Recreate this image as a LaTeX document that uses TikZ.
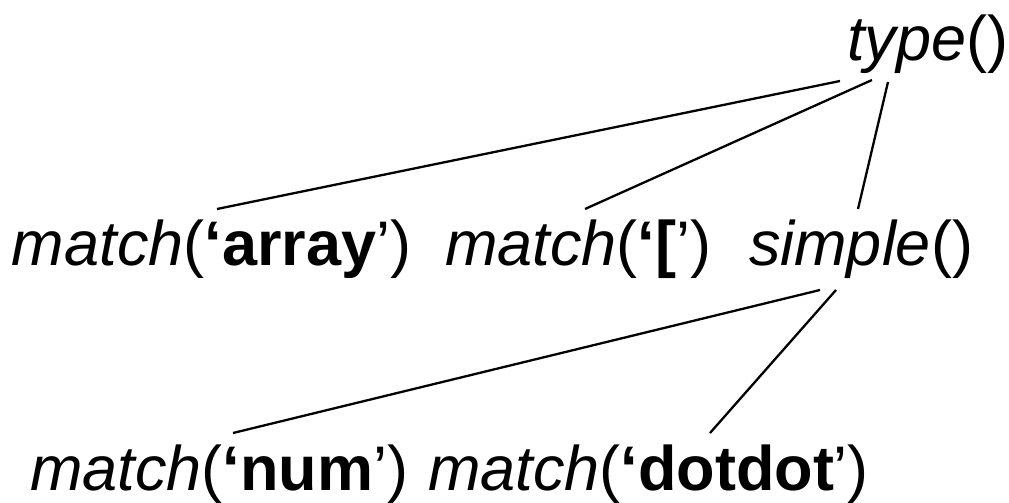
\documentclass[tikz,border=0pt]{standalone}
\usepackage{fontspec}
\setmainfont{Liberation Sans}
\usetikzlibrary{calc}
\begin{document}
\begin{tikzpicture}[x=1pt,y=-1pt,
  lbl/.style={inner sep=0pt, outer sep=0pt, anchor=base west, font=\fontsize{63}{75}\selectfont},
  edge/.style={line width=2.3pt}]
\useasboundingbox (0,0) rectangle (1009,503);
\node[lbl] (type) at (847,61) {\textit{type}()};
\node[lbl] (arr) at (12,265) {\textit{match}(\textbf{‘array}’)};
\node[lbl] (brk) at (445,265) {\textit{match}(\textbf{‘[}’)};
\node[lbl] (simple) at (749,265) {\textit{simple}()};
\node[lbl] (num) at (30,490) {\textit{match}(\textbf{‘num}’)};
\node[lbl] (dotdot) at (428,490) {\textit{match}(\textbf{‘dotdot}’)};
\draw[edge] ($(type.base west)+(-7,20)$) -- ($(arr.base west)+(205,-56)$);
\draw[edge] ($(type.base west)+(25,19)$) -- ($(brk.base west)+(140,-56)$);
\draw[edge] ($(type.base west)+(41,21)$) -- ($(simple.base west)+(109,-56)$);
\draw[edge] ($(simple.base west)+(71,25)$) -- ($(num.base west)+(203,-57)$);
\draw[edge] ($(simple.base west)+(87,25)$) -- ($(dotdot.base west)+(282,-57)$);
\end{tikzpicture}
\end{document}
